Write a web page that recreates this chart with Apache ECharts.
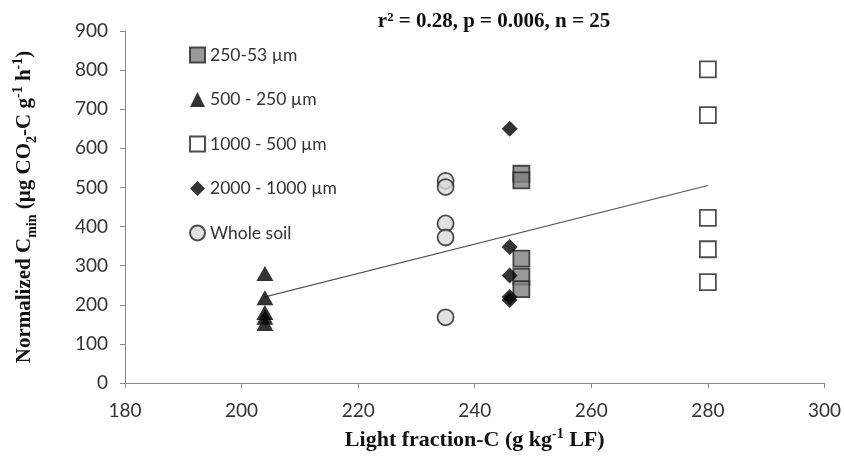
<!DOCTYPE html>
<html>
<head>
<meta charset="utf-8">
<script src="https://cdn.jsdelivr.net/npm/echarts@6/dist/echarts.min.js"></script>
<style>
html, body { margin: 0; padding: 0; background: #fff; }
#chart { width: 844px; height: 456px; }
</style>
</head>
<body>
<div id="chart"></div>
<script>
// x: light fraction-C, y: normalized Cmin
const xTicks = [180, 200, 220, 240, 260, 280, 300];
const yTicks = [0, 100, 200, 300, 400, 500, 600, 700, 800, 900];

const names = ['250-53 µm', '500 - 250 µm', '1000 - 500 µm', '2000 - 1000 µm', 'Whole soil'];

const x53 = [248, 248, 248, 248, 248];
const y53 = [535, 518, 318, 272, 240];
const x250 = [204, 204, 204, 204, 204];
const y250 = [280, 218, 180, 168, 152];
const x500 = [280, 280, 280, 280, 280];
const y500 = [802, 685, 422, 342, 258];
const x1000 = [246, 246, 246, 246, 246];
const y1000 = [650, 348, 275, 220, 212];
const xWhole = [235, 235, 235, 235, 235];
const yWhole = [517, 501, 408, 372, 168];

// regression line end points
const trendX = [204, 280];
const trendY = [220, 505];

const pair = (xs, ys) => xs.map((v, i) => [v, ys[i]]);

const chart = echarts.init(document.getElementById('chart'));
const serif = '"Liberation Serif", "DejaVu Serif", serif';
const sans = 'Lato, "Open Sans", sans-serif';

const option = {
    animation: false,
    backgroundColor: '#fff',
    title: {
        text: 'r² = 0.28, p = 0.006, n = 25',
        left: 489,
        top: 6,
        textAlign: 'center',
        textStyle: { fontFamily: serif, fontWeight: 'bold', fontSize: 21, color: '#111' }
    },
    grid: { left: 125, right: 18, top: 31, bottom: 73 },
    legend: {
        data: names,
        orient: 'vertical',
        left: 184,
        top: 41,
        itemWidth: 15,
        itemHeight: 15,
        itemGap: 26.5,
        selectedMode: false,
        textStyle: { fontFamily: sans, fontSize: 17.5, color: '#333' }
    },
    xAxis: {
        type: 'value',
        min: 180,
        max: 300,
        interval: 20,
        name: '{b|Light fraction-C (g kg}{sup|-1}{b| LF)}',
        nameLocation: 'middle',
        nameGap: 44,
        nameTextStyle: {
            rich: {
                b: { fontFamily: serif, fontWeight: 'bold', fontSize: 22, color: '#111', lineHeight: 26 },
                sup: { fontFamily: serif, fontWeight: 'bold', fontSize: 14, color: '#111', verticalAlign: 'top', lineHeight: 26 }
            }
        },
        axisLine: { lineStyle: { color: '#888', width: 1 } },
        axisTick: { show: true, length: 5, lineStyle: { color: '#888' } },
        axisLabel: {
            margin: 18,
            fontFamily: sans, fontSize: 19, color: '#333',
            formatter: v => (xTicks.indexOf(v) >= 0 ? String(v) : '')
        },
        splitLine: { show: false }
    },
    yAxis: {
        type: 'value',
        min: 0,
        max: 900,
        interval: 100,
        name: '{b|Normalized C}{sub|min}{b| (µg CO}{sub|2}{b|-C g}{sup|-1}{b| h}{sup|-1}{b|)}',
        nameLocation: 'middle',
        nameGap: 86,
        nameTextStyle: {
            rich: {
                b: { fontFamily: serif, fontWeight: 'bold', fontSize: 21, color: '#111', lineHeight: 28 },
                sub: { fontFamily: serif, fontWeight: 'bold', fontSize: 14, color: '#111', verticalAlign: 'bottom', lineHeight: 28 },
                sup: { fontFamily: serif, fontWeight: 'bold', fontSize: 14, color: '#111', verticalAlign: 'top', lineHeight: 28 }
            }
        },
        axisLine: { show: true, lineStyle: { color: '#888', width: 1 } },
        axisTick: { show: true, length: 5, lineStyle: { color: '#888' } },
        axisLabel: {
            margin: 17,
            fontFamily: sans, fontSize: 19, color: '#333',
            formatter: v => (yTicks.indexOf(v) >= 0 ? String(v) : '')
        },
        splitLine: { show: false }
    },
    series: [
        {
            name: 'trend',
            type: 'line',
            data: pair(trendX, trendY),
            showSymbol: false,
            silent: true,
            z: 1,
            lineStyle: { color: '#555', width: 1.2 }
        },
        {
            name: names[0],
            type: 'scatter',
            symbol: 'rect',
            symbolSize: 16,
            data: pair(x53, y53),
            itemStyle: { color: '#808080', borderColor: '#222', borderWidth: 1.8 },
            z: 3
        },
        {
            name: names[1],
            type: 'scatter',
            symbol: 'triangle',
            symbolSize: [17, 15],
            data: pair(x250, y250),
            itemStyle: { color: '#000' },
            z: 3
        },
        {
            name: names[2],
            type: 'scatter',
            symbol: 'rect',
            symbolSize: 16,
            data: pair(x500, y500),
            itemStyle: { color: '#fff', borderColor: '#222', borderWidth: 1.8 },
            z: 3
        },
        {
            name: names[3],
            type: 'scatter',
            symbol: 'diamond',
            symbolSize: 16,
            data: pair(x1000, y1000),
            itemStyle: { color: '#000' },
            z: 3
        },
        {
            name: names[4],
            type: 'scatter',
            symbol: 'circle',
            symbolSize: 16,
            data: pair(xWhole, yWhole),
            itemStyle: { color: '#d9d9d9', borderColor: '#222', borderWidth: 1.8 },
            z: 3
        }
    ]
};

chart.setOption(option);
</script>
</body>
</html>
